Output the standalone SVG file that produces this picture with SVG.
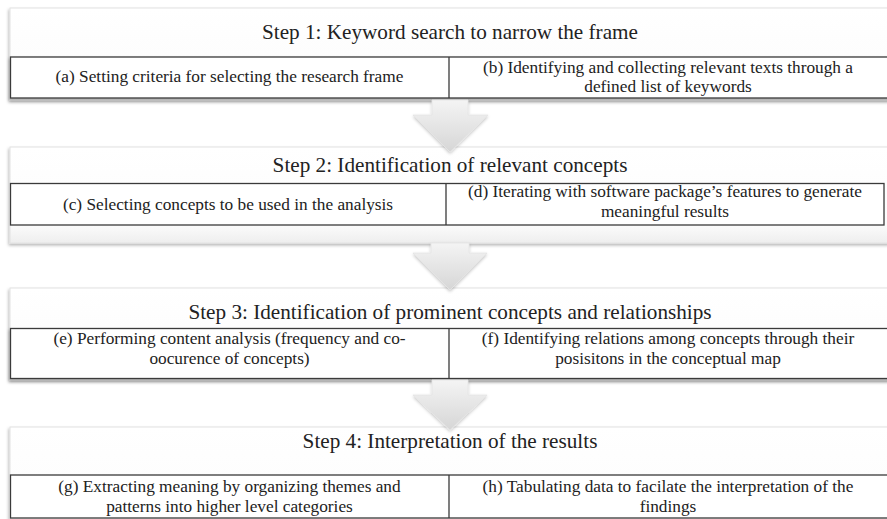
<svg xmlns="http://www.w3.org/2000/svg" width="887" height="519" viewBox="0 0 887 519">
<defs>
<style>
text{font-family:"Liberation Serif","Times New Roman",Times,serif;fill:#222;text-anchor:middle}
.panel{fill:url(#pg);stroke:#e2e2e2;stroke-width:1}
.cell{fill:#ffffff;stroke:#3a3a3a;stroke-width:1.3}
.title{font-size:21.2px}
.sub{font-size:17.3px}
.arrow{fill:url(#ag);stroke:#e4e4e4;stroke-width:0.8}
</style>
<linearGradient id="pg" x1="0" y1="0" x2="0" y2="1">
<stop offset="0" stop-color="#ffffff"/>
<stop offset="0.8" stop-color="#fcfcfc"/>
<stop offset="1" stop-color="#eeeeee"/>
</linearGradient>
<linearGradient id="ag" x1="0" y1="0" x2="0" y2="1">
<stop offset="0" stop-color="#f4f4f4"/>
<stop offset="1" stop-color="#d6d6d6"/>
</linearGradient>
<filter id="sh" x="-5%" y="-20%" width="110%" height="150%">
<feDropShadow dx="-1" dy="2" stdDeviation="1.6" flood-color="#000" flood-opacity="0.28"/>
</filter>
<filter id="ash" x="-30%" y="-30%" width="160%" height="160%">
<feDropShadow dx="0" dy="1.5" stdDeviation="1.5" flood-color="#000" flood-opacity="0.22"/>
</filter>
</defs>
<rect width="887" height="519" fill="#ffffff"/>
<g id="step1">
<rect class="panel" x="10" y="8" width="880" height="92" filter="url(#sh)"/>
<text class="title" x="450" y="39">Step 1: Keyword search to narrow the frame</text>
<rect class="cell" x="10.5" y="57" width="880" height="41" filter="url(#sh)"/>
<line x1="449" y1="57" x2="449" y2="98" stroke="#3a3a3a" stroke-width="1.3"/>
<text class="sub" x="229.5" y="82">(a) Setting criteria for selecting the research frame</text>
<text class="sub" x="668" y="72.5">(b) Identifying and collecting relevant texts through a</text>
<text class="sub" x="668" y="92">defined list of keywords</text>
</g>

<g id="step2">
<rect class="panel" x="10" y="147" width="880" height="96" filter="url(#sh)"/>
<text class="title" x="450" y="171.5">Step 2: Identification of relevant concepts</text>
<rect class="cell" x="10.5" y="183.5" width="873.5" height="41.5"/>
<line x1="446" y1="183.5" x2="446" y2="225" stroke="#3a3a3a" stroke-width="1.3"/>
<text class="sub" x="228" y="210">(c) Selecting concepts to be used in the analysis</text>
<text class="sub" x="665" y="197">(d) Iterating with software package’s features to generate</text>
<text class="sub" x="665" y="217">meaningful results</text>
</g>

<g id="step3">
<rect class="panel" x="10" y="288" width="880" height="92" filter="url(#sh)"/>
<text class="title" x="450" y="319">Step 3: Identification of prominent concepts and relationships</text>
<rect class="cell" x="10.5" y="328.5" width="880" height="50" filter="url(#sh)"/>
<line x1="449" y1="328.5" x2="449" y2="378.5" stroke="#3a3a3a" stroke-width="1.3"/>
<text class="sub" x="229.5" y="343.5">(e) Performing content analysis (frequency and co-</text>
<text class="sub" x="229.5" y="364">oocurence of concepts)</text>
<text class="sub" x="668" y="343.5">(f) Identifying relations among concepts through their</text>
<text class="sub" x="668" y="364">posisitons in the conceptual map</text>
</g>

<g id="step4">
<rect class="panel" x="10" y="427" width="880" height="100" filter="url(#sh)"/>
<text class="title" x="450" y="448">Step 4: Interpretation of the results</text>
<rect class="cell" x="10.5" y="475" width="880" height="43"/>
<line x1="449" y1="475" x2="449" y2="518" stroke="#3a3a3a" stroke-width="1.3"/>
<text class="sub" x="229.5" y="491.5">(g) Extracting meaning by organizing themes and</text>
<text class="sub" x="229.5" y="511.5">patterns into higher level categories</text>
<text class="sub" x="668" y="491.5">(h) Tabulating data to facilate the interpretation of the</text>
<text class="sub" x="668" y="511.5">findings</text>
</g>
<g id="connectors">
<path class="arrow" filter="url(#ash)" d="M432,100 L468,100 L468,115 L488,115 L450,152 L413,115 L432,115 Z"/>
<path class="arrow" filter="url(#ash)" d="M431,243 L469,243 L469,253 L487,253 L450,290 L413,253 L431,253 Z"/>
<path class="arrow" filter="url(#ash)" d="M432,380 L468,380 L468,395 L487,395 L450,430 L413,395 L432,395 Z"/>
</g>
</svg>
